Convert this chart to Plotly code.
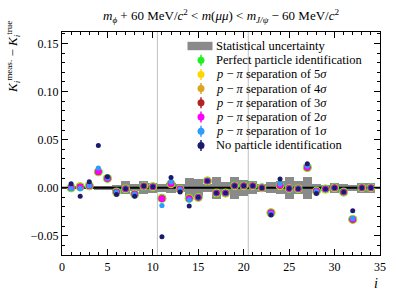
import plotly.graph_objects as go

# ---------------- data ----------------
bins = list(range(1, 35))

stat_unc = [0.0015, 0.0015, 0.0015, 0.002, 0.002, 0.003, 0.007, 0.0035, 0.0065, 0.005,
            0.004, 0.005, 0.004, 0.010, 0.009, 0.004, 0.0115, 0.006, 0.0115, 0.0085,
            0.007, 0.004, 0.006, 0.007, 0.0115, 0.007, 0.0115, 0.004, 0.003, 0.005,
            0.004, 0.003, 0.005, 0.005]

perfect = [0.000, 0.001, 0.002, 0.0165, 0.0097, -0.0045, -0.001, -0.0066, 0.0017, 0.001,
           -0.011, 0.004, -0.0015, -0.011, -0.010, 0.007, -0.0055, -0.0055, 0.002, 0.002,
           0.002, 0.000, -0.026, 0.002, -0.0007, -0.001, 0.021, -0.0035, -0.0014, 0.000,
           -0.0045, -0.033, 0.000, 0.000]
sep5 = [0.000, 0.001, 0.002, 0.0165, 0.0097, -0.0045, -0.001, -0.0066, 0.0017, 0.001,
        -0.011, 0.004, -0.0015, -0.011, -0.010, 0.007, -0.0055, -0.0055, 0.002, 0.002,
        0.002, 0.000, -0.026, 0.002, -0.0007, -0.001, 0.021, -0.0035, -0.0014, 0.000,
        -0.0045, -0.033, 0.000, 0.000]
sep4 = [0.000, 0.001, 0.002, 0.0165, 0.0097, -0.0045, -0.001, -0.0066, 0.0017, 0.001,
        -0.011, 0.004, -0.0015, -0.011, -0.010, 0.007, -0.0055, -0.0055, 0.002, 0.002,
        0.002, 0.000, -0.026, 0.002, -0.0007, -0.001, 0.021, -0.0035, -0.0014, 0.000,
        -0.0045, -0.033, 0.000, 0.000]
sep3 = [0.000, 0.001, 0.002, 0.0165, 0.0097, -0.0045, -0.001, -0.0066, 0.0017, 0.001,
        -0.0112, 0.0042, -0.0015, -0.0112, -0.010, 0.007, -0.0055, -0.0055, 0.002, 0.002,
        0.002, 0.000, -0.026, 0.0022, -0.0007, -0.001, 0.021, -0.0035, -0.0014, 0.000,
        -0.0045, -0.033, 0.000, 0.000]
sep2 = [0.000, 0.0005, 0.002, 0.0167, 0.0097, -0.0045, -0.001, -0.0066, 0.0017, 0.001,
        -0.0115, 0.0045, -0.0015, -0.0115, -0.010, 0.007, -0.0055, -0.0055, 0.002, 0.002,
        0.002, 0.000, -0.0262, 0.0025, -0.0007, -0.001, 0.0212, -0.0035, -0.0014, 0.000,
        -0.0045, -0.0328, 0.000, 0.000]
sep1 = [-0.001, -0.001, 0.002, 0.0205, 0.0100, -0.0045, -0.001, -0.0066, 0.0017, 0.001,
        -0.0185, 0.0062, -0.0018, -0.0125, -0.010, 0.007, -0.0055, -0.0055, 0.002, 0.002,
        0.002, 0.000, -0.027, 0.004, -0.0007, -0.001, 0.0225, -0.0038, -0.0014, 0.000,
        -0.0045, -0.032, 0.000, 0.000]
no_pid = [0.004, -0.0088, 0.0062, 0.044, 0.0115, -0.007, -0.001, -0.009, 0.0017, 0.001,
          -0.051, 0.0105, -0.0045, -0.019, -0.010, 0.007, -0.0055, -0.0055, 0.002, 0.002,
          0.002, 0.000, -0.0285, 0.009, -0.0007, -0.001, 0.025, -0.006, -0.0014, 0.000,
          -0.0045, -0.024, 0.000, 0.000]

zero_line_x = [0, 35]
zero_line_y = [0, 0]
region_edges = [10.5, 20.5]

x_ticks = [0, 5, 10, 15, 20, 25, 30, 35]
y_ticks = [-0.05, 0.00, 0.05, 0.10, 0.15]

series = [
    ("Perfect particle identification", perfect, "#22ee22", 9.0),
    ("<i>p</i> − <i>π</i> separation of 5<i>σ</i>", sep5, "#ffd700", 7.8),
    ("<i>p</i> − <i>π</i> separation of 4<i>σ</i>", sep4, "#daa520", 7.2),
    ("<i>p</i> − <i>π</i> separation of 3<i>σ</i>", sep3, "#b22222", 6.6),
    ("<i>p</i> − <i>π</i> separation of 2<i>σ</i>", sep2, "#ff00ff", 6.6),
    ("<i>p</i> − <i>π</i> separation of 1<i>σ</i>", sep1, "#2f9bff", 5.2),
    ("No particle identification", no_pid, "#1b1b6e", 5.0),
]

FONT = "Liberation Serif"

fig = go.Figure()

# statistical uncertainty band
fig.add_trace(go.Bar(
    x=bins, y=[2 * u for u in stat_unc], base=[-u for u in stat_unc],
    width=1.0, marker=dict(color="#8a8a8a", line=dict(width=0)),
    showlegend=False, hoverinfo="skip"))

# zero line
fig.add_trace(go.Scatter(x=zero_line_x, y=zero_line_y, mode="lines",
                         line=dict(color="black", width=2), showlegend=False,
                         hoverinfo="skip"))

for name, vals, col, sz in series:
    fig.add_trace(go.Scatter(x=bins, y=vals, mode="markers", name=name,
                             marker=dict(color=col, size=sz, line=dict(width=0)),
                             showlegend=False))

# vertical separators
shapes = []
for xe in region_edges:
    shapes.append(dict(type="line", xref="x", yref="paper", x0=xe, x1=xe, y0=0, y1=1,
                       line=dict(color="#b0b0b0", width=0.8), layer="below"))

# ---------- manual legend (pixel layout) ----------
L, R, T, B = 62, 17, 32, 44
W, H = 397, 299
pw, ph = W - L - R, H - T - B


def px_x(p):
    return (p - L) / pw


def px_y(p):
    return (H - B - p) / ph


annotations = []
row_y = [46, 60.2, 74.4, 88.6, 102.8, 117, 131.2, 145.4]
mx = 201
tx = 214
LEG_SIZE = 12.5
# gray rectangle
shapes.append(dict(type="rect", xref="paper", yref="paper",
                   x0=px_x(187.5), x1=px_x(212.5), y0=px_y(row_y[0] + 4.2), y1=px_y(row_y[0] - 4.2),
                   fillcolor="#8a8a8a", line=dict(width=0), layer="above"))
annotations.append(dict(x=px_x(tx), y=px_y(row_y[0]), xref="paper", yref="paper",
                        text="Statistical uncertainty", showarrow=False,
                        xanchor="left", yanchor="middle", font=dict(family=FONT, size=LEG_SIZE, color="black")))
for (name, vals, col, sz), yy in zip(series, row_y[1:]):
    shapes.append(dict(type="line", xref="paper", yref="paper",
                       x0=px_x(mx), x1=px_x(mx), y0=px_y(yy + 5.5), y1=px_y(yy - 5.5),
                       line=dict(color=col, width=1.5), layer="above"))
    shapes.append(dict(type="circle", xref="paper", yref="paper", xsizemode="pixel", ysizemode="pixel",
                       xanchor=px_x(mx), yanchor=px_y(yy), x0=-3.5, x1=3.5, y0=-3.5, y1=3.5,
                       fillcolor=col, line=dict(width=0), layer="above"))
    annotations.append(dict(x=px_x(tx), y=px_y(yy), xref="paper", yref="paper",
                            text=name, showarrow=False, xanchor="left", yanchor="middle",
                            font=dict(family=FONT, size=LEG_SIZE, color="black")))

# title
annotations.append(dict(
    x=0.5, y=px_y(16), xref="paper", yref="paper", showarrow=False,
    xanchor="center", yanchor="middle",
    text="<i>m</i><sub><i>ϕ</i></sub> + 60 MeV/<i>c</i><sup>2</sup> &lt; <i>m</i>(<i>μμ</i>) &lt; "
         "<i>m</i><sub><i>J/ψ</i></sub> − 60 MeV/<i>c</i><sup>2</sup>",
    font=dict(family=FONT, size=13, color="black")))
# y title
annotations.append(dict(
    x=px_x(13), y=px_y(19), xref="paper", yref="paper", showarrow=False,
    xanchor="center", yanchor="top", textangle=-90,
    text="<i>K</i><sub><i>i</i></sub><sup>meas.</sup> − <i>K</i><sub><i>i</i></sub><sup>true</sup>",
    font=dict(family=FONT, size=13, color="black")))
# x title
annotations.append(dict(
    x=1.0, y=px_y(283), xref="paper", yref="paper", showarrow=False,
    xanchor="right", yanchor="middle", text="<i>i</i>",
    font=dict(family=FONT, size=14, color="black")))

axis_common = dict(showgrid=False, zeroline=False, showline=True, linecolor="black",
                   linewidth=1.2, mirror="allticks", ticks="inside", ticklen=6,
                   tickwidth=1, tickcolor="black",
                   tickfont=dict(family=FONT, size=12, color="black"))

fig.update_layout(
    width=W, height=H,
    margin=dict(l=L, r=R, t=T, b=B, pad=0),
    paper_bgcolor="white", plot_bgcolor="white",
    showlegend=False, bargap=0,
    shapes=shapes, annotations=annotations,
    xaxis=dict(range=[0, 35], tickvals=x_ticks, ticktext=[str(v) for v in x_ticks],
               minor=dict(ticks="inside", dtick=1, ticklen=3, tickcolor="black", tickwidth=1),
               **axis_common),
    yaxis=dict(range=[-0.07, 0.162], tickvals=y_ticks, tickformat=".2f",
               minor=dict(ticks="inside", dtick=0.01, tick0=0, ticklen=3, tickcolor="black", tickwidth=1),
               **axis_common),
)

fig.write_html("out.html", config={"displayModeBar": False},
               post_script="document.body.style.margin='0';document.body.style.padding='0';")
